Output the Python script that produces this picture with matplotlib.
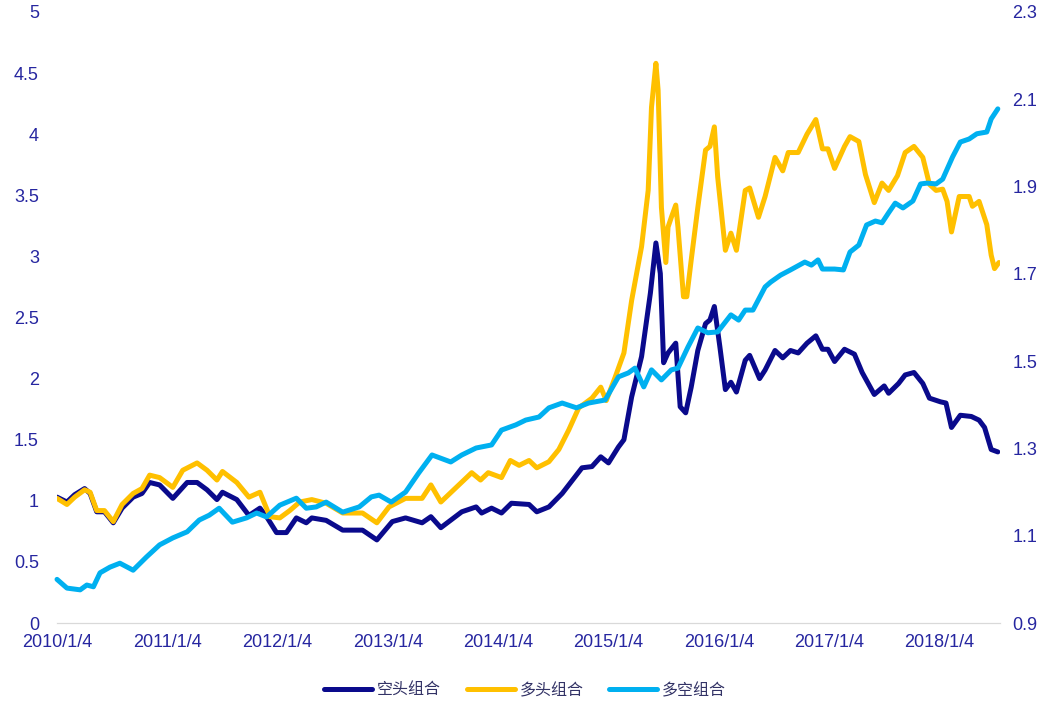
import matplotlib
matplotlib.use("Agg")
import matplotlib.pyplot as plt

# time axis as decimal years (2010/1/4 = 2010.01)
short_t = [2010.01, 2010.10, 2010.17, 2010.26, 2010.31, 2010.37, 2010.44, 2010.52, 2010.60, 2010.70,
           2010.78, 2010.85, 2010.94, 2011.06, 2011.19, 2011.28, 2011.37, 2011.46, 2011.51, 2011.64,
           2011.75, 2011.85, 2011.91, 2012.00, 2012.09, 2012.18, 2012.27, 2012.32, 2012.45, 2012.60,
           2012.78, 2012.91, 2013.05, 2013.17, 2013.32, 2013.40, 2013.49, 2013.68, 2013.81, 2013.86,
           2013.95, 2014.04, 2014.13, 2014.29, 2014.36, 2014.47, 2014.59, 2014.77, 2014.86, 2014.94,
           2015.01, 2015.10, 2015.15, 2015.19, 2015.22, 2015.31, 2015.39, 2015.44, 2015.48, 2015.51,
           2015.55, 2015.62, 2015.66, 2015.71, 2015.76, 2015.82, 2015.89, 2015.93, 2015.97, 2016.02,
           2016.07, 2016.12, 2016.17, 2016.25, 2016.29, 2016.38, 2016.43, 2016.52, 2016.59, 2016.66,
           2016.73, 2016.81, 2016.89, 2016.95, 2017.00, 2017.06, 2017.15, 2017.24, 2017.31, 2017.42,
           2017.51, 2017.55, 2017.64, 2017.70, 2017.78, 2017.86, 2017.92, 2018.02, 2018.07, 2018.12,
           2018.20, 2018.30, 2018.37, 2018.42, 2018.48, 2018.54]
short_v = [1.03, 0.99, 1.05, 1.10, 1.06, 0.91, 0.91, 0.82, 0.94, 1.03,
           1.06, 1.15, 1.13, 1.02, 1.15, 1.15, 1.09, 1.01, 1.07, 1.01,
           0.88, 0.94, 0.87, 0.74, 0.74, 0.86, 0.82, 0.86, 0.84, 0.76,
           0.76, 0.68, 0.83, 0.86, 0.82, 0.87, 0.78, 0.91, 0.95, 0.90,
           0.94, 0.90, 0.98, 0.97, 0.91, 0.95, 1.06, 1.27, 1.28, 1.36,
           1.31, 1.44, 1.50, 1.70, 1.85, 2.18, 2.70, 3.11, 2.86, 2.13,
           2.21, 2.29, 1.77, 1.72, 1.93, 2.23, 2.45, 2.48, 2.59, 2.26,
           1.91, 1.97, 1.89, 2.15, 2.19, 2.00, 2.07, 2.23, 2.17, 2.23,
           2.21, 2.29, 2.35, 2.24, 2.24, 2.14, 2.24, 2.20, 2.05, 1.87,
           1.94, 1.88, 1.96, 2.03, 2.05, 1.96, 1.84, 1.81, 1.80, 1.60,
           1.70, 1.69, 1.66, 1.60, 1.42, 1.40]

long_t = [2010.01, 2010.10, 2010.17, 2010.26, 2010.31, 2010.37, 2010.44, 2010.52, 2010.60, 2010.70,
          2010.78, 2010.85, 2010.94, 2011.06, 2011.15, 2011.28, 2011.37, 2011.46, 2011.51, 2011.64,
          2011.75, 2011.85, 2011.94, 2012.03, 2012.12, 2012.21, 2012.32, 2012.45, 2012.60, 2012.78,
          2012.91, 2013.02, 2013.17, 2013.32, 2013.40, 2013.49, 2013.63, 2013.77, 2013.85, 2013.92,
          2014.04, 2014.12, 2014.20, 2014.29, 2014.36, 2014.47, 2014.56, 2014.65, 2014.74, 2014.86,
          2014.94, 2014.99, 2015.07, 2015.15, 2015.22, 2015.31, 2015.37, 2015.40, 2015.44, 2015.46,
          2015.49, 2015.53, 2015.55, 2015.58, 2015.62, 2015.64, 2015.69, 2015.72, 2015.76, 2015.82,
          2015.89, 2015.93, 2015.97, 2016.00, 2016.07, 2016.12, 2016.17, 2016.25, 2016.29, 2016.37,
          2016.43, 2016.52, 2016.59, 2016.64, 2016.73, 2016.81, 2016.89, 2016.95, 2017.00, 2017.06,
          2017.15, 2017.20, 2017.28, 2017.34, 2017.42, 2017.49, 2017.55, 2017.63, 2017.70, 2017.78,
          2017.86, 2017.92, 2017.98, 2018.04, 2018.08, 2018.12, 2018.19, 2018.28, 2018.31, 2018.37,
          2018.44, 2018.48, 2018.51, 2018.55]
long_v = [1.02, 0.97, 1.03, 1.09, 1.07, 0.92, 0.92, 0.83, 0.97, 1.06,
          1.10, 1.21, 1.19, 1.11, 1.25, 1.31, 1.25, 1.17, 1.24, 1.15,
          1.03, 1.07, 0.87, 0.86, 0.92, 0.99, 1.01, 0.98, 0.90, 0.90,
          0.82, 0.95, 1.02, 1.02, 1.13, 0.99, 1.11, 1.23, 1.17, 1.23,
          1.19, 1.33, 1.29, 1.33, 1.27, 1.32, 1.42, 1.58, 1.76, 1.84,
          1.93, 1.82, 2.01, 2.21, 2.64, 3.08, 3.54, 4.22, 4.58, 4.36,
          3.40, 2.95, 3.24, 3.32, 3.42, 3.24, 2.67, 2.67, 2.97, 3.40,
          3.87, 3.90, 4.06, 3.65, 3.05, 3.19, 3.05, 3.54, 3.56, 3.32,
          3.49, 3.81, 3.70, 3.85, 3.85, 4.00, 4.12, 3.88, 3.88, 3.72,
          3.90, 3.98, 3.94, 3.67, 3.44, 3.60, 3.54, 3.66, 3.85, 3.90,
          3.81, 3.59, 3.54, 3.55, 3.45, 3.20, 3.49, 3.49, 3.41, 3.45,
          3.26, 3.01, 2.90, 2.95]

ls_t = [2010.01, 2010.10, 2010.22, 2010.28, 2010.34, 2010.40, 2010.49, 2010.58, 2010.70, 2010.82,
        2010.94, 2011.06, 2011.19, 2011.30, 2011.39, 2011.48, 2011.60, 2011.73, 2011.82, 2011.91,
        2012.03, 2012.18, 2012.27, 2012.36, 2012.45, 2012.60, 2012.75, 2012.86, 2012.93, 2013.04,
        2013.17, 2013.29, 2013.41, 2013.58, 2013.68, 2013.81, 2013.95, 2014.04, 2014.17, 2014.26,
        2014.38, 2014.47, 2014.59, 2014.72, 2014.83, 2014.98, 2015.10, 2015.19, 2015.25, 2015.33,
        2015.40, 2015.49, 2015.58, 2015.64, 2015.73, 2015.82, 2015.91, 2016.00, 2016.12, 2016.19,
        2016.25, 2016.32, 2016.43, 2016.48, 2016.57, 2016.66, 2016.79, 2016.85, 2016.91, 2016.95,
        2017.06, 2017.14, 2017.20, 2017.28, 2017.35, 2017.43, 2017.49, 2017.55, 2017.61, 2017.68,
        2017.77, 2017.84, 2017.90, 2017.98, 2018.04, 2018.13, 2018.20, 2018.28, 2018.35, 2018.44,
        2018.48, 2018.54]
ls_v = [1.000, 0.980, 0.976, 0.987, 0.983, 1.015, 1.028, 1.037, 1.021, 1.051,
        1.079, 1.095, 1.109, 1.136, 1.147, 1.163, 1.131, 1.141, 1.152, 1.143,
        1.170, 1.186, 1.163, 1.166, 1.177, 1.154, 1.166, 1.189, 1.193, 1.177,
        1.200, 1.244, 1.285, 1.269, 1.285, 1.301, 1.308, 1.342, 1.354, 1.365,
        1.372, 1.393, 1.404, 1.393, 1.404, 1.411, 1.464, 1.473, 1.484, 1.441,
        1.480, 1.457, 1.480, 1.484, 1.532, 1.576, 1.565, 1.567, 1.606, 1.594,
        1.617, 1.617, 1.670, 1.681, 1.697, 1.709, 1.727, 1.720, 1.732, 1.711,
        1.711, 1.709, 1.750, 1.766, 1.812, 1.821, 1.817, 1.840, 1.862, 1.851,
        1.867, 1.906, 1.908, 1.906, 1.917, 1.968, 2.002, 2.009, 2.021, 2.025,
        2.055, 2.078]

tick_pos = [2010.01 + i for i in range(9)]
tick_labels = ["2010/1/4", "2011/1/4", "2012/1/4", "2013/1/4", "2014/1/4",
               "2015/1/4", "2016/1/4", "2017/1/4", "2018/1/4"]
names = ["空头组合", "多头组合", "多空组合"]

navy = "#0A0A8C"
gold = "#FFC000"
cyan = "#00B0F0"
label_col = "#2626A0"

plt.rcParams["font.family"] = ["Liberation Sans", "DejaVu Sans"]

fig = plt.figure(figsize=(10.5, 7.05), dpi=100)
ax = fig.add_axes([0.0543, 0.1163, 0.8981, 0.8667])
ax2 = ax.twinx()

style = dict(lw=3.6, solid_capstyle="round", solid_joinstyle="round")
l1, = ax.plot(short_t, short_v, color=navy, label=names[0], zorder=2, **style)
l2, = ax.plot(long_t, long_v, color=gold, label=names[1], zorder=3, **style)
l3, = ax2.plot(ls_t, ls_v, color=cyan, label=names[2], clip_on=False, **style)

ax.set_xlim(2010.01, 2018.56)
ax.set_ylim(0, 5)
ax.set_yticks([i * 0.5 for i in range(11)])
ax.set_yticklabels(["0", "0.5", "1", "1.5", "2", "2.5", "3", "3.5", "4", "4.5", "5"])
ax2.set_ylim(0.9, 2.3)
ax2.set_yticks([0.9, 1.1, 1.3, 1.5, 1.7, 1.9, 2.1, 2.3])
ax2.set_yticklabels(["0.9", "1.1", "1.3", "1.5", "1.7", "1.9", "2.1", "2.3"])
ax.set_xticks(tick_pos)
ax.set_xticklabels(tick_labels)

for a in (ax, ax2):
    for s in ("top", "left", "right"):
        a.spines[s].set_visible(False)
    a.spines["bottom"].set_color("#D9D9D9")
    a.tick_params(length=0, labelsize=13, labelcolor=label_col)
ax.tick_params(axis="y", pad=13)
ax2.tick_params(axis="y", pad=9)
ax.tick_params(axis="x", pad=8)

fig.legend(handles=[l1, l2, l3], loc="lower center", bbox_to_anchor=(0.5, -0.012), ncol=3,
           frameon=False, handlelength=3.0, handletextpad=0.3, columnspacing=1.6,
           prop={"family": ["Noto Sans CJK SC", "DejaVu Sans"], "size": 11.5})
for t in fig.legends[0].get_texts():
    t.set_color("#333366")

fig.savefig("out.png", dpi=100)
